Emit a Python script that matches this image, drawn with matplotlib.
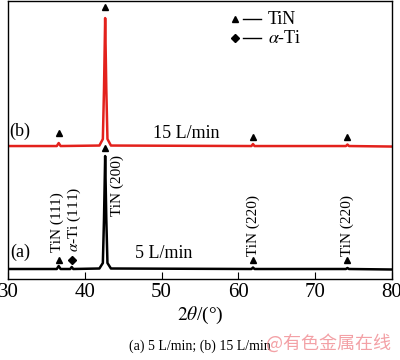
import numpy as np
import matplotlib.pyplot as plt

plt.rcParams['font.family'] = ['Liberation Serif', 'DejaVu Serif']
plt.rcParams['mathtext.fontset'] = 'stix'

# XRD pattern (a) 5 L/min, offset baseline
a_x = [30, 36.35, 36.6, 36.85, 38.1, 38.3, 38.5, 41.9, 42.35, 42.5, 42.65, 42.8, 42.95, 43.4,
       61.7, 61.9, 62.1, 74.0, 74.2, 74.4, 80]
a_y = [10, 10, 13, 10, 10, 12, 10, 10.5, 16, 60, 123, 60, 16, 10.5,
       10, 11.5, 10, 10, 11, 10, 9.5]

# XRD pattern (b) 15 L/min
b_x = [30, 36.35, 36.6, 36.85, 41.9, 42.35, 42.5, 42.65, 42.8, 42.95, 43.4,
       61.7, 61.9, 62.1, 74.0, 74.2, 74.4, 80]
b_y = [133, 133, 136, 133, 133.5, 140, 190, 261, 190, 140, 133.5,
       133, 135, 133, 133, 134.5, 133, 132.5]

# phase markers
tin_a = [(36.6, 19), (42.65, 131), (61.9, 19), (74.2, 19)]
ti_a = [(38.3, 19)]
tin_b = [(36.6, 146), (42.65, 272), (61.9, 142), (74.2, 142)]

# rotated peak labels (x, y bottom, text)
peak_labels = [(36.4, 27, 'TiN (111)'), (38.6, 27, r'$\alpha$-Ti (111)'),
               (44.2, 63, 'TiN (200)'), (61.9, 23, 'TiN (220)'), (74.2, 23, 'TiN (220)')]

fig = plt.figure(figsize=(4, 3.6), dpi=100)
ax = fig.add_axes([0.02, 0.225, 0.96, 0.772])

ax.plot(a_x, a_y, color='black', lw=1.8)
ax.plot(b_x, b_y, color='#e3211c', lw=1.8)

for x, y in tin_a + tin_b:
    ax.plot(x, y, marker='^', color='black', ms=5, ls='none')
for x, y in ti_a:
    ax.plot(x, y, marker='D', color='black', ms=4.5, ls='none')

for x, y, s in peak_labels:
    ax.text(x, y, s, rotation=90, ha='center', va='bottom', fontsize=11)

ax.text(30.3, 18, '(a)', fontsize=13, va='bottom')
ax.text(46.5, 17, '5 L/min', fontsize=13, va='bottom')
ax.text(30.2, 139, '(b)', fontsize=13, va='bottom')
ax.text(48.9, 137, '15 L/min', fontsize=13, va='bottom')

# legend drawn by hand
ax.plot(59.6, 260, marker='^', color='black', ms=5)
ax.plot(59.6, 241, marker='D', color='black', ms=4.5)
ax.plot([60.6, 63.0], [260, 260], color='black', lw=1.0)
ax.plot([60.6, 63.0], [241, 241], color='black', lw=1.0)
ax.text(63.8, 260, 'TiN', fontsize=13, va='center')
ax.text(63.8, 241, r'$\alpha$-Ti', fontsize=13, va='center')

ax.set_xlim(30, 80)
ax.set_ylim(0, 278)
ax.set_xticks([30, 40, 50, 60, 70, 80])
ax.set_yticks([])
ax.tick_params(axis='x', direction='in', length=5, labelsize=15, pad=3)
ax.set_xlabel(r'$2\theta$/(°)', fontsize=14, labelpad=2)
for sp in ax.spines.values():
    sp.set_linewidth(1.0)

fig.text(0.5, 0.02, '(a) 5 L/min; (b) 15 L/min', ha='center', va='bottom', fontsize=10)
fig.text(0.665, 0.02, '@有色金属在线', ha='left', va='bottom', fontsize=13,
         color='#f08a90', alpha=0.8, family=['Noto Sans CJK SC', 'DejaVu Sans'])

fig.savefig('out.png', dpi=100)
